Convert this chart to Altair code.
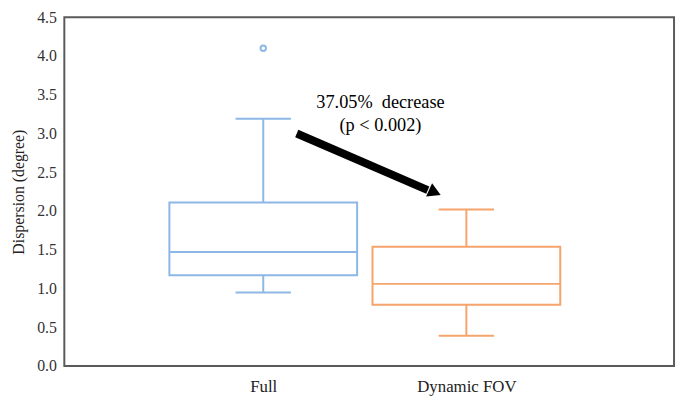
import altair as alt
import pandas as pd

# ---- data ----
groups = ["Full", "Dynamic FOV"]
xpos = [1, 2]
whisker_low = [0.95, 0.39]
q1 = [1.17, 0.79]
median = [1.47, 1.06]
q3 = [2.11, 1.54]
whisker_high = [3.19, 2.02]
outlier_group = ["Full"]
outlier_x = [1]
outlier_val = [4.10]

note_lines = ["37.05%\u00a0\u00a0decrease", "(p < 0.002)"]
note_x = [1.577, 1.577]
note_y = [3.40, 3.115]

arrow_x = [1.165, 1.81]
arrow_y = [3.0, 2.27]
head_x = [1.845]
head_y = [2.24]

y_ticks = [0, 0.5, 1, 1.5, 2, 2.5, 3, 3.5, 4, 4.5]

colors = ["#8db8e6", "#f5a46c"]
SERIF = "Liberation Serif, Times New Roman, serif"

box = pd.DataFrame({"group": groups, "x": xpos, "lo": whisker_low, "q1": q1,
                    "med": median, "q3": q3, "hi": whisker_high})
outl = pd.DataFrame({"group": outlier_group, "x": outlier_x, "v": outlier_val})
notes = pd.DataFrame({"t": note_lines, "x": note_x, "y": note_y})
arrow = pd.DataFrame({"x": arrow_x, "y": arrow_y, "o": [0, 1]})
head = pd.DataFrame({"x": head_x, "y": head_y})

xscale = alt.Scale(domain=[0.045, 2.998], nice=False, zero=False)
yscale = alt.Scale(domain=[0, 4.5], nice=False)
cscale = alt.Scale(domain=groups, range=colors)

xaxis = alt.Axis(values=[1, 2], labelExpr="datum.value == 1 ? 'Full' : 'Dynamic FOV'",
                 title=None, domain=False, ticks=False, grid=False,
                 labelFont=SERIF, labelFontSize=17, labelColor="#222222",
                 labelPadding=13)
yaxis = alt.Axis(values=y_ticks, format=".1f",
                 labelOverlap=False, labelFlush=False,
                 title="Dispersion (degree)", domain=False, ticks=False, grid=False,
                 labelFont=SERIF, labelFontSize=16, labelColor="#333333",
                 labelPadding=8, titleFont=SERIF, titleFontSize=16,
                 titleFontWeight="normal", titleColor="#222222", titlePadding=10)


def yq(field):
    return alt.Y(field, scale=yscale, axis=yaxis)


def xq():
    return alt.X("x:Q", scale=xscale, axis=xaxis)


base = alt.Chart(box)
col = alt.Color("group:N", scale=cscale, legend=None)

boxes = base.mark_bar(size=190, fill="transparent", strokeWidth=2).encode(
    x=xq(), y=yq("q1:Q"), y2="q3:Q",
    stroke=alt.Stroke("group:N", scale=cscale, legend=None))

lower = base.mark_rule(strokeWidth=2).encode(x=xq(), y=yq("lo:Q"), y2="q1:Q", color=col)
upper = base.mark_rule(strokeWidth=2).encode(x=xq(), y=yq("q3:Q"), y2="hi:Q", color=col)

med = base.mark_tick(size=190, thickness=2, orient="horizontal", opacity=1).encode(
    x=xq(), y=yq("med:Q"), color=col)
cap_lo = base.mark_tick(size=56, thickness=2, orient="horizontal", opacity=1).encode(
    x=xq(), y=yq("lo:Q"), color=col)
cap_hi = base.mark_tick(size=56, thickness=2, orient="horizontal", opacity=1).encode(
    x=xq(), y=yq("hi:Q"), color=col)

pts = alt.Chart(outl).mark_point(shape="circle", size=30, filled=False, strokeWidth=2,
                                 opacity=1).encode(
    x=xq(), y=yq("v:Q"), color=col)

txt = alt.Chart(notes).mark_text(font=SERIF, fontSize=18.5, color="#000000").encode(
    x=xq(), y=yq("y:Q"), text="t:N")

line = alt.Chart(arrow).mark_line(color="black", strokeWidth=8, strokeCap="butt").encode(
    x=xq(), y=yq("y:Q"), order="o:Q")

tri = alt.Chart(head).mark_point(shape="triangle-right", size=220, filled=True,
                                 color="black", opacity=1, angle=24).encode(
    x=xq(), y=yq("y:Q"))

chart = alt.layer(boxes, lower, upper, med, cap_lo, cap_hi, pts, line, tri, txt).properties(
    width=617, height=353,
    background="white",
    autosize=alt.AutoSizeParams(type="none"),
    padding={"left": 57, "top": 7, "right": 3, "bottom": 30},
).configure_view(stroke="#5a5a5a", strokeWidth=2)

chart.save("out.html", embed_options={"renderer": "svg", "actions": False})
